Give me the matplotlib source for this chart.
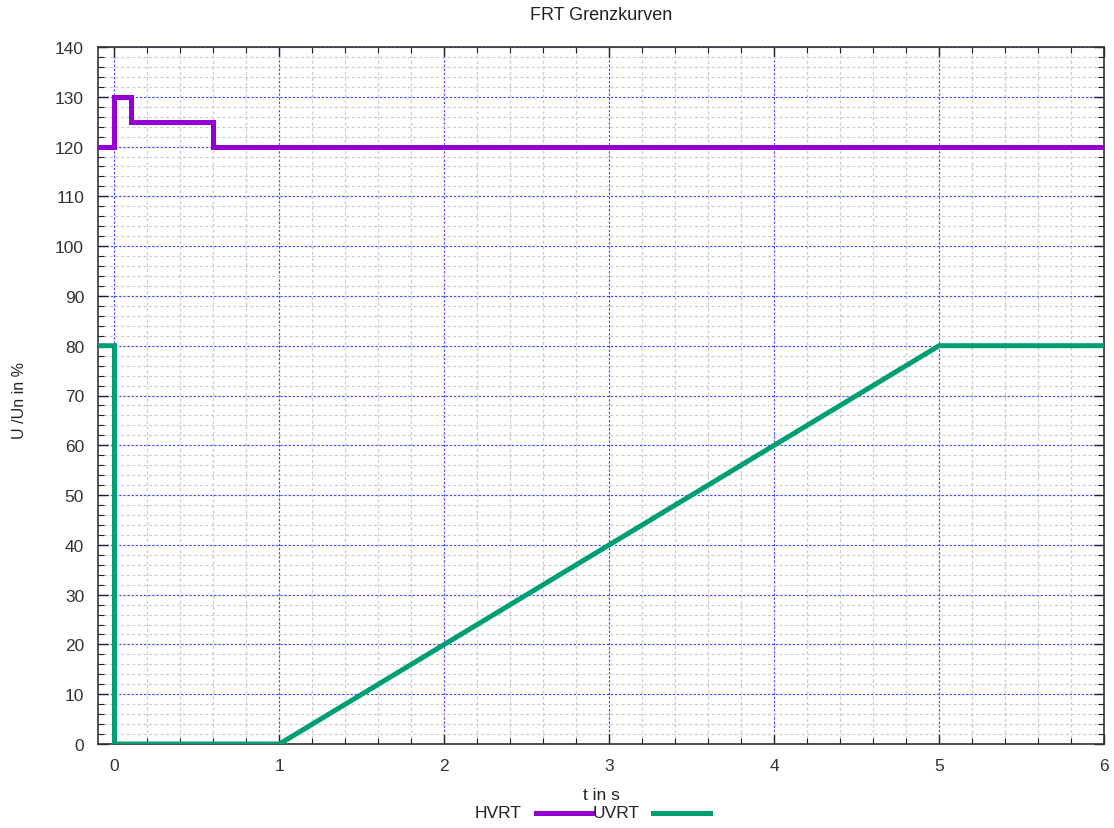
import matplotlib
matplotlib.use("Agg")
import matplotlib.pyplot as plt
from matplotlib.ticker import MultipleLocator
from matplotlib.lines import Line2D

plt.rcParams['font.family'] = ['Liberation Sans', 'DejaVu Sans']

hvrt_t = [-0.1, 0.0, 0.0, 0.1, 0.1, 0.6, 0.6, 6.0]
hvrt_u = [120, 120, 130, 130, 125, 125, 120, 120]
uvrt_t = [-0.1, 0.0, 0.0, 1.0, 5.0, 6.0]
uvrt_u = [80, 80, 0, 0, 80, 80]

title = "FRT Grenzkurven"
xlabel = "t in s"
ylabel = "U /Un in %"
series_names = ["HVRT", "UVRT"]
colors = ["#9400D3", "#009E73"]

W, H = 1114, 829
fig = plt.figure(figsize=(11.14, 8.29), dpi=100)
ax = fig.add_axes([98 / W, 1 - 745 / H, (1104 - 98) / W, (745 - 48) / H])

ax.plot(hvrt_t, hvrt_u, color=colors[0], lw=3.6, solid_joinstyle='miter', zorder=3)
ax.plot(uvrt_t, uvrt_u, color=colors[1], lw=3.6, solid_joinstyle='miter', zorder=3)

ax.set_xlim(-0.1, 6)
ax.set_ylim(0, 140)
ax.xaxis.set_major_locator(MultipleLocator(1))
ax.xaxis.set_minor_locator(MultipleLocator(0.2))
ax.yaxis.set_major_locator(MultipleLocator(10))
ax.yaxis.set_minor_locator(MultipleLocator(2))

ax.grid(which='minor', color='#cdcdcd', linestyle=(0, (2.5, 2)), linewidth=0.9, zorder=0)
ax.grid(which='major', color='#4a4aff', linestyle=(0, (2, 1.5)), linewidth=0.85, zorder=1)

ax.tick_params(which='both', direction='in', top=True, right=True, colors='#222222',
               labelcolor='#333333')
ax.tick_params(which='major', length=7, width=1, labelsize=12.5, pad=10)
ax.tick_params(which='minor', length=4, width=0.8)
for s in ax.spines.values():
    s.set_linewidth(1.2)
    s.set_color('#333333')

cx = (98 + 1104) / 2 / W
fig.text(cx, 1 - 15 / H, title, ha='center', va='center', fontsize=13, color='#222222')
fig.text(cx, 1 - 796 / H, xlabel, ha='center', va='center', fontsize=12.5, color='#222222')
fig.text(20 / W, 0.517, ylabel, ha='center', va='center', rotation=90, fontsize=11.5, color='#222222')

# gnuplot-style legend at bottom
ly = 1 - 814 / H
fig.text(522 / W, ly, series_names[0], ha='right', va='center', fontsize=12.5, color='#222222')
fig.add_artist(Line2D([536 / W, 592 / W], [ly, ly], color=colors[0], lw=3.6, transform=fig.transFigure))
fig.text(640 / W, ly, series_names[1], ha='right', va='center', fontsize=12.5, color='#222222')
fig.add_artist(Line2D([653 / W, 710 / W], [ly, ly], color=colors[1], lw=3.6, transform=fig.transFigure))

fig.savefig("out.png", dpi=100)
